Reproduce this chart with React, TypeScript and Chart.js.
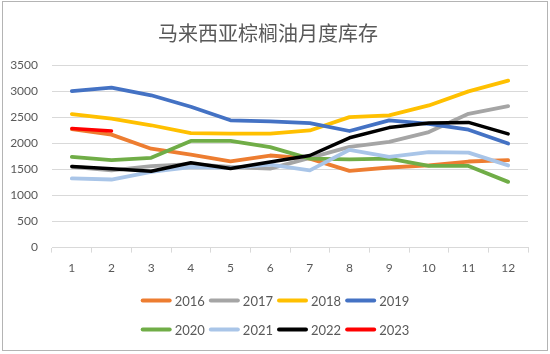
import React, { useEffect, useRef } from "react";
import { Chart, registerables } from "chart.js";

Chart.register(...registerables);

const months = ["1", "2", "3", "4", "5", "6", "7", "8", "9", "10", "11", "12"];
const title = "马来西亚棕榈油月度库存";

const s2016 = [2270, 2165, 1895, 1780, 1655, 1765, 1705, 1470, 1535, 1575, 1650, 1675];
const s2017 = [1550, 1480, 1560, 1600, 1545, 1515, 1720, 1930, 2025, 2215, 2565, 2710];
const s2018 = [2560, 2470, 2345, 2195, 2185, 2185, 2245, 2500, 2535, 2725, 2995, 3200];
const s2019 = [3000, 3065, 2920, 2700, 2440, 2420, 2385, 2235, 2440, 2370, 2260, 1995];
const s2020 = [1740, 1675, 1720, 2045, 2045, 1925, 1705, 1690, 1705, 1565, 1565, 1260];
const s2021 = [1325, 1305, 1450, 1545, 1530, 1590, 1480, 1875, 1740, 1830, 1820, 1575];
const s2022 = [1555, 1510, 1465, 1625, 1515, 1640, 1765, 2105, 2300, 2390, 2400, 2180];
const s2023 = [2285, 2235];

const seriesNames = ["2016", "2017", "2018", "2019", "2020", "2021", "2022", "2023"];
const seriesData = [s2016, s2017, s2018, s2019, s2020, s2021, s2022, s2023];
const seriesColors = ["#ED7D31", "#A5A5A5", "#FFC000", "#4472C4", "#70AD47", "#A9C5E8", "#000000", "#FF0000"];

const yTicks = [0, 500, 1000, 1500, 2000, 2500, 3000, 3500];

const FONT = "Lato, 'Liberation Sans', 'Noto Sans', sans-serif";
const TEXT_COLOR = "#595959";

const frameAndLegend = {
  id: "frameAndLegend",
  beforeDraw(chart: any) {
    const ctx = chart.ctx;
    ctx.save();
    ctx.fillStyle = "#ffffff";
    ctx.fillRect(0, 0, chart.width, chart.height);
    ctx.strokeStyle = "#b4b4b4";
    ctx.lineWidth = 1;
    ctx.strokeRect(2.5, 1.5, chart.width - 5, chart.height - 5);
    ctx.restore();
  },
  afterDraw(chart: any) {
    const ctx = chart.ctx;
    const ds = chart.data.datasets;
    const lineLen = 31;
    const gap = 3;
    const spacing = 4;
    const perRow = 4;
    ctx.save();
    ctx.font = "13px " + FONT;
    ctx.textBaseline = "middle";
    ctx.textAlign = "left";
    const rowsY = [chart.chartArea.bottom + 53, chart.chartArea.bottom + 82];
    for (let r = 0; r < rowsY.length; r++) {
      const items = ds.slice(r * perRow, r * perRow + perRow);
      const widths = items.map((d: any) => lineLen + gap + ctx.measureText(d.label).width);
      const total = widths.reduce((a: number, b: number) => a + b, 0) + spacing * (items.length - 1);
      let x = chart.width / 2 - total / 2;
      const y = rowsY[r];
      items.forEach((d: any, i: number) => {
        ctx.strokeStyle = d.borderColor;
        ctx.lineWidth = 4;
        ctx.lineCap = "round";
        ctx.beginPath();
        ctx.moveTo(x + 2, y);
        ctx.lineTo(x + lineLen - 2, y);
        ctx.stroke();
        ctx.fillStyle = TEXT_COLOR;
        ctx.fillText(d.label, x + lineLen + gap, y + 1);
        x += widths[i] + spacing;
      });
    }
    ctx.restore();
  },
};

export default function App() {
  const ref = useRef<HTMLCanvasElement | null>(null);

  useEffect(() => {
    document.body.style.margin = "0";
    if (!ref.current) return;
    const chart = new Chart(ref.current, {
      type: "line",
      data: {
        labels: months,
        datasets: seriesNames.map((name, i) => ({
          label: name,
          data: seriesData[i],
          borderColor: seriesColors[i],
          backgroundColor: seriesColors[i],
          borderWidth: i === 6 || i === 7 ? 3.5 : 3.8,
          pointRadius: 0,
          tension: 0,
          borderJoinStyle: "round" as const,
          borderCapStyle: "round" as const,
          order: seriesNames.length - i,
        })),
      },
      options: {
        animation: false,
        responsive: false,
        maintainAspectRatio: false,
        layout: { padding: { left: 8, right: 22, top: 3, bottom: 71 } },
        plugins: {
          legend: { display: false },
          tooltip: { enabled: false },
          title: {
            display: true,
            text: title,
            color: TEXT_COLOR,
            font: { family: "'Noto Sans CJK SC', sans-serif", size: 20, weight: "normal" },
            padding: { top: 18, bottom: 20 },
          },
        },
        scales: {
          x: {
            offset: true,
            grid: {
              offset: true,
              drawOnChartArea: false,
              drawTicks: true,
              tickLength: 5,
              color: "#d9d9d9",
            },
            border: { display: true, color: "#d9d9d9", width: 1 },
            ticks: {
              color: TEXT_COLOR,
              font: { family: FONT, size: 12 },
              padding: 8,
              maxRotation: 0,
              autoSkip: false,
            },
          },
          y: {
            min: 0,
            max: 3500,
            afterBuildTicks: (axis: any) => {
              axis.ticks = yTicks.map((v) => ({ value: v }));
            },
            afterFit: (axis: any) => {
              axis.width = 44;
            },
            grid: { color: "#d9d9d9", drawTicks: false },
            border: { display: false },
            ticks: {
              color: TEXT_COLOR,
              font: { family: FONT, size: 12 },
              padding: 14,
              callback: (v: any) => String(v),
            },
          },
        },
      },
      plugins: [frameAndLegend],
    });
    return () => chart.destroy();
  }, []);

  return (
    <div style={{ width: 550, height: 354 }}>
      <canvas ref={ref} width={550} height={354} style={{ display: "block", width: 550, height: 354 }} />
    </div>
  );
}
